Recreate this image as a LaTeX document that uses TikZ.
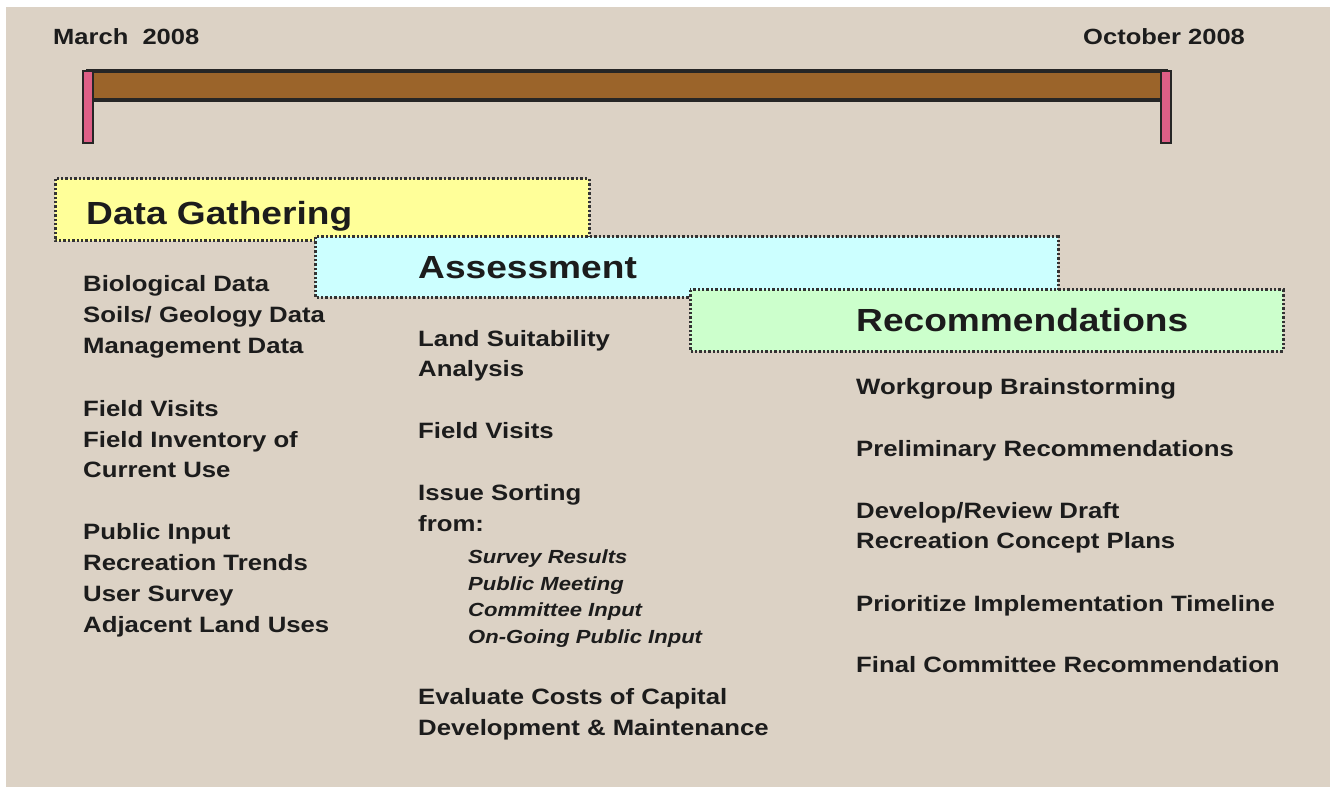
\documentclass[tikz,border=0pt]{standalone}
\usepackage{fontspec}
\setmainfont[FakeStretch=1.16]{Liberation Sans}
\definecolor{bg}{RGB}{220,210,197}
\definecolor{bar}{RGB}{155,100,42}
\definecolor{post}{RGB}{222,95,135}
\definecolor{ybox}{RGB}{255,255,153}
\definecolor{cbox}{RGB}{204,255,255}
\definecolor{gbox}{RGB}{204,255,204}
\definecolor{ink}{RGB}{28,28,28}
\tikzset{
  body/.style={font=\fontsize{22.2}{25}\selectfont\bfseries, text=ink, inner sep=0pt, anchor=base west},
  ital/.style={font=\fontsize{19}{22}\selectfont\bfseries\itshape, text=ink, inner sep=0pt, anchor=base west},
  head/.style={font=\fontsize{32}{36}\selectfont\bfseries, text=ink, inner sep=0pt, anchor=base west},
  datelbl/.style={font=\fontsize{22}{26}\selectfont\bfseries, text=ink, inner sep=0pt, anchor=base west},
  phase/.style={draw=black!80, line width=3pt, dash pattern=on 2.4pt off 2pt},
}
\begin{document}
\begin{tikzpicture}[x=1pt,y=-1pt]
\useasboundingbox (0,0) rectangle (1330,794);
\fill[white] (0,0) rectangle (1330,794);
\fill[bg] (6,7) rectangle (1330,787);
% timeline
\draw[fill=bar, line width=3.4pt, draw=black!85] (88,71) rectangle (1166,100);
\draw[fill=post, line width=2.2pt, draw=black!85] (83,71) rectangle (93,143);
\draw[fill=post, line width=2.2pt, draw=black!85] (1161,71) rectangle (1171,143);
\node[datelbl] (mar) at (53,45) {March\ \ 2008};
\node[datelbl] (oct) at (1083,45) {October 2008};
% phase boxes
\draw[phase, fill=ybox] (55,179) rectangle (589,241);
\node[head] (dg) at (86,225) {Data Gathering};
\draw[phase, fill=cbox] (315,237) rectangle (1058,297);
\node[head] (as) at (418,279) {Assessment};
\draw[phase, fill=gbox] (690,290) rectangle (1283,351);
\node[head] (rc) at (856,331) {Recommendations};
% left column
\node[body] (l1) at (83,291) {Biological Data};
\node[body] (l2) at (83,322) {Soils/ Geology Data};
\node[body] (l3) at (83,353) {Management Data};
\node[body] (l4) at (83,416) {Field Visits};
\node[body] (l5) at (83,447) {Field Inventory of};
\node[body] (l6) at (83,477) {Current Use};
\node[body] (l7) at (83,539) {Public Input};
\node[body] (l8) at (83,570) {Recreation Trends};
\node[body] (l9) at (83,601) {User Survey};
\node[body] (l10) at (83,632) {Adjacent Land Uses};
% middle column
\node[body] (m1) at (418,346) {Land Suitability};
\node[body] (m2) at (418,376) {Analysis};
\node[body] (m3) at (418,438) {Field Visits};
\node[body] (m4) at (418,500) {Issue Sorting};
\node[body] (m5) at (418,531) {from:};
\node[ital] (i1) at (468,563) {Survey Results};
\node[ital] (i2) at (468,590) {Public Meeting};
\node[ital] (i3) at (468,616) {Committee Input};
\node[ital] (i4) at (468,643) {On-Going Public Input};
\node[body] (m6) at (418,704) {Evaluate Costs of Capital};
\node[body] (m7) at (418,735) {Development \& Maintenance};
% right column
\node[body] (r1) at (856,394) {Workgroup Brainstorming};
\node[body] (r2) at (856,456) {Preliminary Recommendations};
\node[body] (r3) at (856,518) {Develop/Review Draft};
\node[body] (r4) at (856,548) {Recreation Concept Plans};
\node[body] (r5) at (856,611) {Prioritize Implementation Timeline};
\node[body] (r6) at (856,672) {Final Committee Recommendation};
\end{tikzpicture}
\end{document}
